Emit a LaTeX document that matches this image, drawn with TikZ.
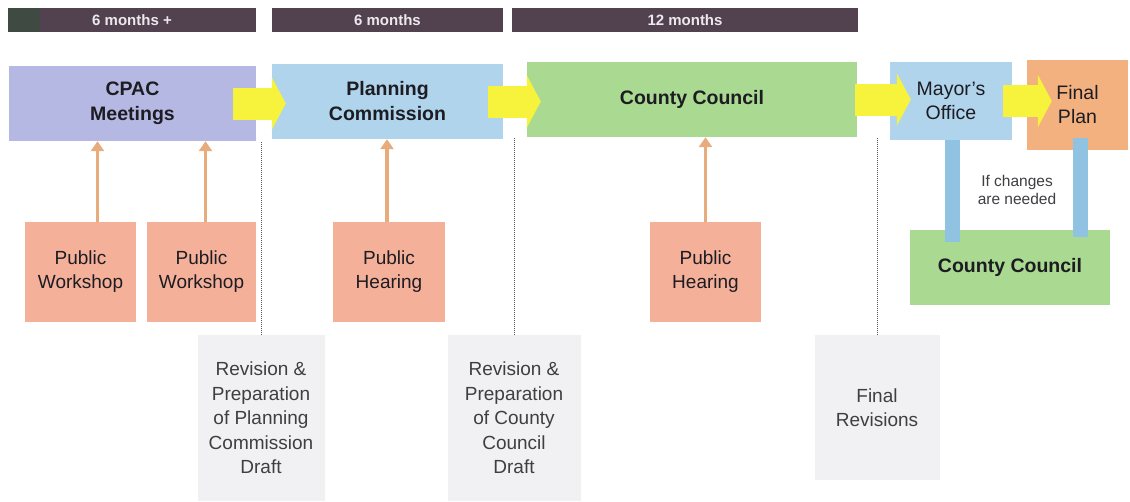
\documentclass[tikz,border=0pt]{standalone}
\usepackage{fontspec}
\setmainfont{Liberation Sans}
\usetikzlibrary{arrows.meta}
\definecolor{hdr}{HTML}{524250}
\definecolor{hdrdark}{HTML}{3F4A43}
\definecolor{hdrtxt}{HTML}{ECE8EC}
\definecolor{lav}{HTML}{B6B8E4}
\definecolor{lblue}{HTML}{AFD4EC}
\definecolor{lgreen}{HTML}{AAD991}
\definecolor{salmon}{HTML}{F5B09A}
\definecolor{orangebox}{HTML}{F2B17F}
\definecolor{grayfill}{HTML}{F1F1F3}
\definecolor{yel}{HTML}{F7F33C}
\definecolor{tan}{HTML}{E8AC7C}
\definecolor{barblue}{HTML}{90C2E2}
\definecolor{txt}{HTML}{1C1C22}
\definecolor{dotc}{HTML}{555555}
\begin{document}
\begin{tikzpicture}[x=1pt,y=-1pt,
  hdrbar/.style={fill=hdr, inner sep=0pt, minimum height=24pt, text=hdrtxt, font=\fontsize{15}{18}\selectfont\bfseries},
  mainbox/.style={inner sep=0pt, align=center, text=txt, font=\fontsize{19.5}{25}\selectfont\bfseries},
  plainbox/.style={inner sep=0pt, align=center, text=txt, font=\fontsize{19.5}{24}\selectfont},
  inbox/.style={fill=salmon, inner sep=0pt, minimum width=111pt, minimum height=100pt, align=center, text=txt, font=\fontsize{19}{24}\selectfont},
  graybox/.style={fill=grayfill, inner sep=0pt, align=center, text=txt!85, font=\fontsize{19}{24.5}\selectfont},
  yarrow/.style={draw=yel, line width=32pt, -{Triangle[length=14pt,width=52pt]}},
  oarrow/.style={draw=tan, line width=3.5pt, -{Triangle[length=10pt,width=13pt]}},
  bbar/.style={draw=barblue, line width=15pt},
  dline/.style={draw=dotc, line width=1pt, densely dotted},
  note/.style={inner sep=0pt, align=center, text=txt!85, font=\fontsize{15.5}{18.5}\selectfont}
]
\path[use as bounding box, fill=white] (0,0) rectangle (1130,501);

% header bars
\node[hdrbar, minimum width=248pt] (bar1) at (132,20) {};
\fill[hdrdark] (bar1.north west) rectangle ([xshift=32pt]bar1.south west);
\node[text=hdrtxt, font=\fontsize{15}{18}\selectfont\bfseries] (bar1t) at (bar1) {6 months +};
\node[hdrbar, minimum width=231pt] (bar2) at (387.5,20) {6 months};
\node[hdrbar, minimum width=346pt] (bar3) at (685,20) {12 months};

% gray boxes
\node[graybox, minimum width=127pt, minimum height=166pt] (g1) at (261,418) {Revision \&\\Preparation\\of Planning\\Commission\\Draft};
\node[graybox, minimum width=133pt, minimum height=166pt] (g2) at (514,418) {Revision \&\\Preparation\\of County\\Council\\Draft};
\node[graybox, minimum width=125pt, minimum height=145pt] (g3) at (877,407.5) {Final\\Revisions};

% main boxes
\node[mainbox, fill=lav, minimum width=247pt, minimum height=75pt] (cpac) at (132.5,103.5) {CPAC\\Meetings};
\node[mainbox, fill=lblue, minimum width=231pt, minimum height=75pt] (plan) at (387.5,101.5) {Planning\\Commission};
\node[mainbox, fill=lgreen, minimum width=330pt, minimum height=75pt] (cc) at (692,99.5) {County Council};
\node[plainbox, fill=lblue, minimum width=122pt, minimum height=78pt] (mayor) at (951,101) {Mayor's\\Office};
\node[plainbox, fill=orangebox, minimum width=101pt, minimum height=90pt] (fp) at (1077.5,105) {Final\\Plan};
\node[mainbox, fill=lgreen, minimum width=200pt, minimum height=75pt] (cc2) at (1010,267.5) {County Council};

% input boxes
\node[inbox] (pw1) at (80.5,272) {Public\\Workshop};
\node[inbox, minimum width=109pt] (pw2) at (201.5,272) {Public\\Workshop};
\node[inbox, minimum width=112pt] (ph1) at (389,272) {Public\\Hearing};
\node[inbox] (ph2) at (705.5,272) {Public\\Hearing};

% dotted lines
\draw[dline] (g1.north) -- (g1.north |- cpac.south);
\draw[dline] (g2.north) -- (g2.north |- cc.south);
\draw[dline] (g3.north) -- (g3.north |- cc.south);

% yellow block arrows
\draw[yarrow] ([xshift=-23pt]cpac.east) -- ([xshift=14pt]plan.west |- cpac.east);
\draw[yarrow] ([xshift=-15pt]plan.east) -- ([xshift=14pt]cc.west |- plan.east);
\draw[yarrow] ([xshift=-2pt]cc.east) -- ([xshift=21pt]mayor.west |- cc.east);
\draw[yarrow] ([xshift=-9pt]mayor.east) -- ([xshift=25pt]fp.west |- mayor.east);

% orange input arrows
\draw[oarrow] ([xshift=17pt]pw1.north) -- ([xshift=17pt]pw1.north |- cpac.south);
\draw[oarrow] ([xshift=4pt]pw2.north) -- ([xshift=4pt]pw2.north |- cpac.south);
\draw[oarrow] ([xshift=-2pt]ph1.north) -- ([xshift=-2pt]ph1.north |- plan.south);
\draw[oarrow] (ph2.north) -- (ph2.north |- cc.south);

% blue feedback bars
\draw[bbar] ([xshift=1pt]mayor.south) -- ([xshift=1pt,yshift=-12pt]mayor.south |- cc2.north);
\draw[bbar] ([xshift=3pt,yshift=12pt]fp.south) -- ([xshift=3pt,yshift=-7pt]fp.south |- cc2.north);
\node[note] (chg) at (1017,190) {If changes\\are needed};
\end{tikzpicture}
\end{document}
